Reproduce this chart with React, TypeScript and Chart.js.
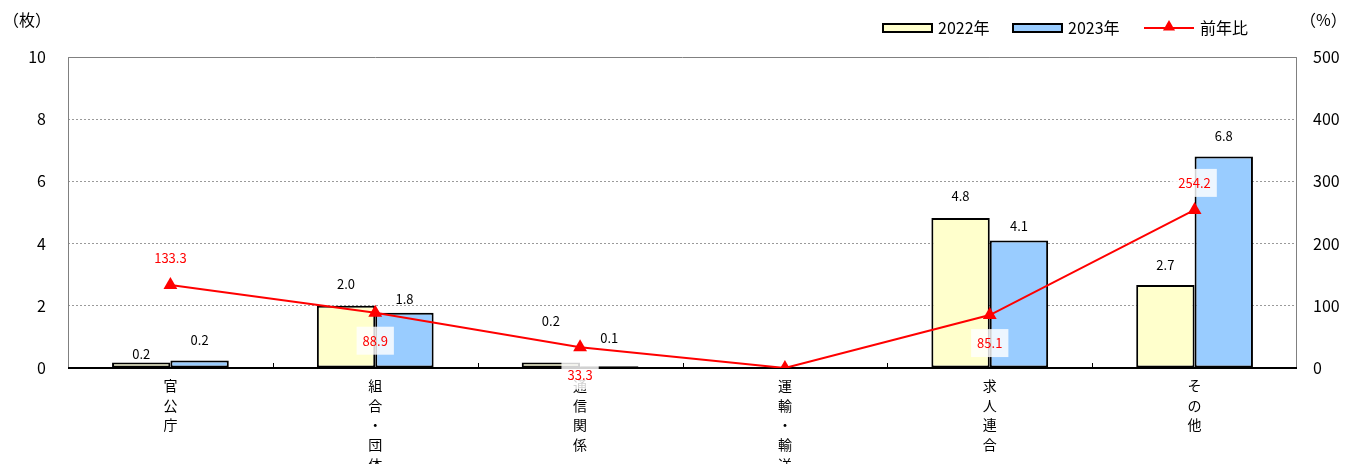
import React, { useEffect, useRef } from 'react';
import { Chart, registerables } from 'chart.js';

Chart.register(...registerables);

const categories: string[][] = [
  ['官', '公', '庁'],
  ['組', '合', '・', '団', '体'],
  ['通', '信', '関', '係'],
  ['運', '輸', '・', '輸', '送'],
  ['求', '人', '連', '合'],
  ['そ', 'の', '他'],
];
const values2022 = [0.18, 2.0, 0.18, 0, 4.82, 2.67];
const values2023 = [0.24, 1.78, 0.06, 0, 4.1, 6.8];
const yoyRatio = [133.3, 88.9, 33.3, 0, 85.1, 254.2];
const yoyLabelAbove = [true, false, false, false, false, true];
// label lift above bar top (px), as placed in the original
const labelLift2022 = [8, 22, 41, 0, 22, 20];
const labelLift2023 = [20, 14, 28, 0, 14, 20];
const seriesNames = ['2022年', '2023年', '前年比'];
const leftAxisTitle = '（枚）';
const rightAxisTitle = '（%）';

const FONT = "'Noto Sans CJK JP', 'Noto Sans', sans-serif";
const CANVAS_W = 1354;
const CANVAS_H = 490;
const COLOR_2022 = '#FFFFCC';
const COLOR_2023 = '#99CCFF';
const COLOR_LINE = '#FF0000';

function drawTriangle(ctx: CanvasRenderingContext2D, x: number, y: number, r: number) {
  let rad = 0;
  ctx.beginPath();
  ctx.moveTo(x + Math.sin(rad) * r, y - Math.cos(rad) * r);
  rad += (2 * Math.PI) / 3;
  ctx.lineTo(x + Math.sin(rad) * r, y - Math.cos(rad) * r);
  rad += (2 * Math.PI) / 3;
  ctx.lineTo(x + Math.sin(rad) * r, y - Math.cos(rad) * r);
  ctx.closePath();
  ctx.fill();
}

const overlayPlugin = {
  id: 'overlay',
  beforeDatasetsDraw(chart: any) {
    const ctx: CanvasRenderingContext2D = chart.ctx;
    const { left, right, top, bottom } = chart.chartArea;
    ctx.save();
    ctx.strokeStyle = '#808080';
    ctx.lineWidth = 1;
    ctx.beginPath();
    ctx.moveTo(left + 0.5, bottom);
    ctx.lineTo(left + 0.5, top + 0.5);
    ctx.lineTo(right - 0.5, top + 0.5);
    ctx.lineTo(right - 0.5, bottom);
    ctx.stroke();
    ctx.strokeStyle = '#000';
    ctx.lineWidth = 2;
    ctx.beginPath();
    ctx.moveTo(left, bottom);
    ctx.lineTo(right, bottom);
    ctx.stroke();
    const xs = chart.scales.x;
    ctx.lineWidth = 1;
    for (let i = 1; i < categories.length; i++) {
      const x = Math.round((xs.getPixelForTick(i - 1) + xs.getPixelForTick(i)) / 2) + 0.5;
      ctx.beginPath();
      ctx.moveTo(x, bottom);
      ctx.lineTo(x, bottom - 5);
      ctx.stroke();
    }
    ctx.restore();
  },
  afterDatasetsDraw(chart: any) {
    const ctx: CanvasRenderingContext2D = chart.ctx;
    ctx.save();
    ctx.textAlign = 'center';
    ctx.textBaseline = 'middle';
    ctx.font = `13px ${FONT}`;
    ctx.fillStyle = '#000';
    const lifts = [labelLift2022, labelLift2023];
    [0, 1].forEach((di) => {
      const meta = chart.getDatasetMeta(di);
      meta.data.forEach((bar: any, i: number) => {
        const v = chart.data.datasets[di].data[i] as number;
        if (!v) return;
        ctx.fillText(v.toFixed(1), bar.x, bar.y - lifts[di][i]);
      });
    });
    const lm = chart.getDatasetMeta(2);
    lm.data.forEach((pt: any, i: number) => {
      const v = chart.data.datasets[2].data[i] as number;
      if (!v) return;
      const y = pt.y + (yoyLabelAbove[i] ? -27 : 28);
      const txt = v.toFixed(1);
      const w = ctx.measureText(txt).width + 12;
      ctx.fillStyle = 'rgba(255,255,255,0.82)';
      ctx.fillRect(pt.x - w / 2, y - 14, w, 28);
      ctx.fillStyle = COLOR_LINE;
      ctx.fillText(txt, pt.x, y);
    });
    ctx.restore();
  },
  afterDraw(chart: any) {
    const ctx: CanvasRenderingContext2D = chart.ctx;
    ctx.save();
    ctx.textBaseline = 'middle';
    ctx.font = `16px ${FONT}`;
    ctx.fillStyle = '#000';
    ctx.textAlign = 'left';
    ctx.fillText(leftAxisTitle, 3, 20);
    ctx.fillText(rightAxisTitle, 1300, 20);
    // legend
    const ly = 28;
    const boxes = [
      { x: 883, fill: COLOR_2022, name: seriesNames[0] },
      { x: 1013, fill: COLOR_2023, name: seriesNames[1] },
    ];
    boxes.forEach((b) => {
      ctx.fillStyle = b.fill;
      ctx.fillRect(b.x, ly - 4, 49, 8);
      ctx.strokeStyle = '#000';
      ctx.lineWidth = 2;
      ctx.strokeRect(b.x, ly - 4, 49, 8);
      ctx.fillStyle = '#000';
      ctx.fillText(b.name, b.x + 55, ly);
    });
    ctx.strokeStyle = COLOR_LINE;
    ctx.lineWidth = 2;
    ctx.beginPath();
    ctx.moveTo(1144, ly);
    ctx.lineTo(1194, ly);
    ctx.stroke();
    ctx.fillStyle = COLOR_LINE;
    drawTriangle(ctx, 1169, ly - 1, 7);
    ctx.fillStyle = '#000';
    ctx.fillText(seriesNames[2], 1200, ly);
    ctx.restore();
  },
};

export default function App() {
  const ref = useRef<HTMLCanvasElement>(null);
  useEffect(() => {
    if (!ref.current) return;
    Chart.defaults.font.family = FONT;
    Chart.defaults.color = '#000';
    const chart = new Chart(ref.current, {
      type: 'bar',
      data: {
        labels: categories,
        datasets: [
          {
            label: seriesNames[0],
            data: values2022,
            backgroundColor: COLOR_2022,
            borderColor: '#000',
            borderWidth: (c: any) => (c.raw ? 2 : 0),
            borderSkipped: false,
            yAxisID: 'y',
            order: 2,
            categoryPercentage: 0.57,
            barPercentage: 1.0,
          } as any,
          {
            label: seriesNames[1],
            data: values2023,
            backgroundColor: COLOR_2023,
            borderColor: '#000',
            borderWidth: (c: any) => (c.raw ? 2 : 0),
            borderSkipped: false,
            yAxisID: 'y',
            order: 2,
            categoryPercentage: 0.57,
            barPercentage: 1.0,
          } as any,
          {
            type: 'line',
            label: seriesNames[2],
            data: yoyRatio,
            borderColor: COLOR_LINE,
            backgroundColor: COLOR_LINE,
            borderWidth: 2,
            pointStyle: 'triangle',
            pointRadius: 8,
            pointBorderWidth: 0,
            pointBackgroundColor: COLOR_LINE,
            tension: 0,
            yAxisID: 'y2',
            order: 0,
          } as any,
        ],
      },
      options: {
        animation: false,
        responsive: false,
        maintainAspectRatio: false,
        devicePixelRatio: 1,
        layout: { padding: { top: 57, left: 0, right: 0, bottom: 0 } },
        plugins: { legend: { display: false }, tooltip: { enabled: false } },
        scales: {
          x: {
            grid: { display: false, drawTicks: false },
            border: { display: false },
            ticks: {
              font: { size: 14, lineHeight: 1.4 },
              color: '#000',
              padding: 8,
              maxRotation: 0,
              autoSkip: false,
            },
            afterFit: (s: any) => {
              s.height = CANVAS_H - 368;
            },
          },
          y: {
            position: 'left',
            min: 0,
            max: 10,
            ticks: { stepSize: 2, font: { size: 16 }, color: '#000', padding: 22 },
            grid: { color: '#9a9a9a', lineWidth: 1, drawTicks: false },
            border: { display: false, dash: [2, 2] },
            afterFit: (s: any) => {
              s.width = 68;
            },
          },
          y2: {
            position: 'right',
            min: 0,
            max: 500,
            ticks: { stepSize: 100, font: { size: 16 }, color: '#000', padding: 16 },
            grid: { display: false, drawTicks: false },
            border: { display: false },
            afterFit: (s: any) => {
              s.width = CANVAS_W - 1297;
            },
          },
        },
      },
      plugins: [overlayPlugin],
    });
    return () => chart.destroy();
  }, []);
  return (
    <div
      style={{
        position: 'fixed',
        left: 0,
        top: 0,
        width: CANVAS_W,
        height: 464,
        overflow: 'hidden',
        background: '#fff',
      }}
    >
      <canvas ref={ref} width={CANVAS_W} height={CANVAS_H} style={{ display: 'block' }} />
    </div>
  );
}
